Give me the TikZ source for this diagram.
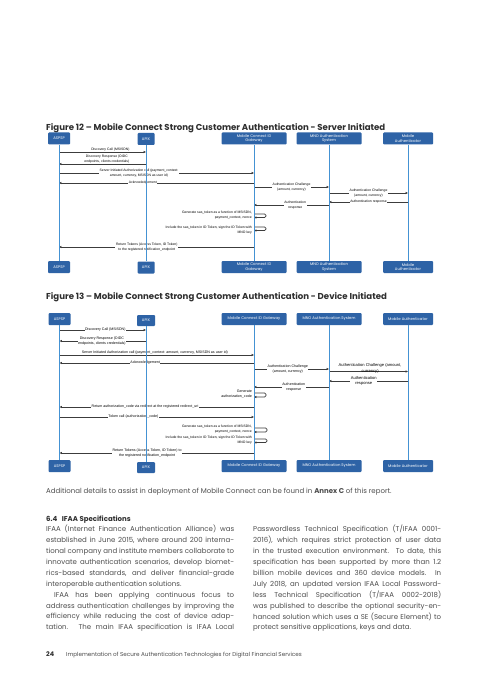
\documentclass[tikz,border=0pt]{standalone}
\usepackage{fontspec}
\setmainfont{Poppins}
\newfontfamily\diagfont{Liberation Sans}
\usetikzlibrary{arrows.meta}

\definecolor{boxblue}{HTML}{2E63A6}
\definecolor{lifeblue}{HTML}{4492D3}
\definecolor{msggray}{HTML}{3C3C3C}
\definecolor{textgray}{HTML}{4D4D4D}
\definecolor{titlegray}{HTML}{2F2F2F}

\newcommand\jl[1]{\makebox[188pt][s]{#1}}

\tikzset{
  actor/.style={fill=boxblue, rounded corners=1pt, text=white, inner sep=0pt,
    font=\fontsize{3.8}{4.8}\selectfont, align=center, minimum height=12pt},
  life/.style={draw=lifeblue, line width=0.9pt},
  msg/.style={draw=msggray, line width=0.7pt, -{Latex[length=2.4pt,width=2.4pt]}},
  lbl/.style={fill=white, inner sep=0.6pt, align=center,
    font=\diagfont\fontsize{3.4}{5}\selectfont},
  lblm/.style={lbl, font=\diagfont\fontsize{3.6}{5.2}\selectfont},
  lblbig/.style={lbl, font=\diagfont\fontsize{4.1}{5.8}\selectfont},
  note/.style={inner sep=0.5pt, align=right, font=\diagfont\fontsize{3.4}{5}\selectfont},
  loop/.style={msg, rounded corners=1.3pt},
  body/.style={anchor=north west, inner sep=0pt, align=left, text=textgray,
    font=\fontsize{7}{10.9}\selectfont},
  figtitle/.style={anchor=base west, inner sep=0pt, text=titlegray,
    font=\bfseries\fontsize{8.6}{10}\selectfont},
}

\begin{document}
\begin{tikzpicture}[x=1pt, y=-1pt]
\fill[white] (0,0) rectangle (480,679);
\useasboundingbox (0,0) rectangle (480,679);

% Figure 12
\node[figtitle] (title12) at (46,131) {Figure 12 – Mobile Connect Strong Customer Authentication - Server Initiated};

\node[actor, minimum width=22pt] (aspspT) at (59,138.5) {ASPSP};
\node[actor, minimum width=17pt] (apixT) at (146,139) {APIX};
\node[actor, minimum width=65pt] (mcT) at (254,138.5) {Mobile Connect ID\\Gateway};
\node[actor, minimum width=65pt] (mnoT) at (329,138.5) {MNO Authentication\\System};
\node[actor, minimum width=50pt] (maT) at (408,138.5) {Mobile\\Authenticator};

\node[actor, minimum width=22pt] (aspspB) at (59,267) {ASPSP};
\node[actor, minimum width=17pt] (apixB) at (146,267.5) {APIX};
\node[actor, minimum width=65pt] (mcB) at (254,267) {Mobile Connect ID\\Gateway};
\node[actor, minimum width=65pt] (mnoB) at (329,267) {MNO Authentication\\System};
\node[actor, minimum width=50pt] (maB) at (408,267) {Mobile\\Authenticator};

% messages
\draw[msg] (aspspT |- 0,152) -- node[lbl, above, pos=0.59] {Discovery Call (MSISDN)} (apixT |- 0,152);
\draw[msg] (apixT |- 0,164) -- node[lbl, above, pos=0.45] {Discovery Response (OIDC\\endpoints, clients credentials)} (aspspT |- 0,164);
\draw[msg] (aspspT |- 0,173) -- node[lbl, pos=0.41] {Server Initiated Authorization call (payment\_context:\\amount, currency, MSISDN as user id)} (mcT |- 0,173);
\draw[msg] (mcT |- 0,183) -- node[lbl, pos=0.57] {Acknowledgement} (aspspT |- 0,183);
\draw[msg] (mcT |- 0,187) -- node[lbl] {Authentication Challenge\\(amount, currency)} (mnoT |- 0,187);
\draw[msg] (mnoT |- 0,193) -- node[lbl] {Authentication Challenge\\(amount, currency)} (maT |- 0,193);
\draw[msg] (maT |- 0,202) -- node[lbl] {Authentication response} (mnoT |- 0,202);
\draw[msg] (mnoT |- 0,205) -- node[lbl, pos=0.45] {Authentication\\response} (mcT |- 0,205);
\draw[loop] (mcT |- 0,214) -- ++(12,0) -- ++(0,3.5) -- ++(-12,0);
\node[note, left=1.5pt] (gen12) at (mcT |- 0,215.5) {Generate sas\_token as a function of MSISDN,\\payment\_context, nonce};
\draw[loop] (mcT |- 0,227) -- ++(12,0) -- ++(0,3.5) -- ++(-12,0);
\node[note, left=1.5pt] (inc12) at (mcT |- 0,230.5) {Include the sas\_token in ID Token, sign the ID Token with\\MNO key};
\draw[msg] (mcT |- 0,247) -- node[lbl, pos=0.55] {Return Tokens (Access Token, ID Token)\\to the registered notification\_endpoint} (aspspT |- 0,247);

% lifelines
\foreach \who in {aspsp, apix, mc, mno, ma}
  \draw[life] (\who T) -- (\who B);

% Figure 13
\node[figtitle] (title13) at (46,299) {Figure 13 – Mobile Connect Strong Customer Authentication - Device Initiated};

\node[actor, minimum width=22pt] (aspspU) at (59.5,319) {ASPSP};
\node[actor, minimum width=18pt, minimum height=11pt] (apixU) at (146,320.5) {APIX};
\node[actor, minimum width=65pt] (mcU) at (254,319) {Mobile Connect ID Gateway};
\node[actor, minimum width=65pt] (mnoU) at (329,319) {MNO Authentication System};
\node[actor, minimum width=50pt] (maU) at (408,319) {Mobile Authenticator};

\node[actor, minimum width=22pt] (aspspD) at (59.5,466) {ASPSP};
\node[actor, minimum width=18pt, minimum height=11pt] (apixD) at (146,467.5) {APIX};
\node[actor, minimum width=65pt] (mcD) at (254,466) {Mobile Connect ID Gateway};
\node[actor, minimum width=65pt] (mnoD) at (329,466) {MNO Authentication System};
\node[actor, minimum width=50pt] (maD) at (408,466) {Mobile Authenticator};

% messages
\draw[msg] (aspspU |- 0,330) -- node[lblm, pos=0.53] {Discovery Call (MSISDN)} (apixU |- 0,330);
\draw[msg] (apixU |- 0,341) -- node[lblm, pos=0.51] {Discovery Response (OIDC\\endpoints, clients credentials)} (aspspU |- 0,341);
\draw[msg] (aspspU |- 0,355) -- node[lblm, above, pos=0.49] {Server Initiated Authorization call (payment\_context: amount, currency, MSISDN as user id)} (mcU |- 0,355);
\draw[msg] (mcU |- 0,363) -- node[lblm, pos=0.56] {Acknowledgement} (aspspU |- 0,363);
\draw[msg] (mcU |- 0,369) -- node[lblm, pos=0.45] {Authentication Challenge\\(amount, currency)} (mnoU |- 0,369);
\draw[msg] (mnoU |- 0,371.5) -- node[lblbig, above, yshift=-2.4pt, fill=none, pos=0.52] {Authentication Challenge (amount,\\currency)} (maU |- 0,371.5);
\draw[msg] (maU |- 0,381) -- node[lblbig, pos=0.56] {Authentication\\response} (mnoU |- 0,381);
\draw[msg] (mnoU |- 0,387) -- node[lblm, pos=0.47] {Authentication\\response} (mcU |- 0,387);
\draw[loop] (mcU |- 0,393) -- ++(12,0) -- ++(0,4) -- ++(-12,0);
\node[note, left=1.5pt, font=\diagfont\fontsize{3.6}{5.6}\selectfont] (gen13a) at (mcU |- 0,394) {Generate\\authorization\_code};
\draw[msg] (mcU |- 0,407) -- node[lblm, pos=0.56] {Return authorization\_code via redirect at the registered redirect\_uri} (aspspU |- 0,407);
\draw[msg] (aspspU |- 0,417) -- node[lblm, pos=0.38] {Token call (authorization\_code)} (mcU |- 0,417);
\draw[loop] (mcU |- 0,428) -- ++(13,0) -- ++(0,4) -- ++(-13,0);
\node[note, left=1.5pt] (gen13b) at (mcU |- 0,429.5) {Generate sas\_token as a function of MSISDN,\\payment\_context, nonce};
\draw[loop] (mcU |- 0,439) -- ++(13,0) -- ++(0,3.5) -- ++(-13,0);
\node[note, left=1.5pt] (inc13) at (mcU |- 0,440.5) {Include the sas\_token in ID Token, sign the ID Token with\\MNO key};
\draw[msg] (mcU |- 0,453) -- node[lblm, pos=0.55] {Return Tokens (Access Token, ID Token) to\\the registered notification\_endpoint} (aspspU |- 0,453);

% lifelines
\foreach \who in {aspsp, apix, mc, mno, ma}
  \draw[life] (\who U) -- (\who D);

% text below
\node[anchor=base west, inner sep=0pt, text=textgray, font=\fontsize{7}{10.9}\selectfont]
  (annex) at (46,493.5) {Additional details to assist in deployment of Mobile Connect can be found in \textbf{Annex C} of this report.};
\node[anchor=base west, inner sep=0pt, text=titlegray, font=\bfseries\fontsize{7}{10}\selectfont]
  (sec64) at (46,521.5) {6.4\hspace{3pt} IFAA Specifications};

\node[body] (colL) at (46,525) {%
\jl{IFAA (Internet Finance Authentication Alliance) was}\\
\jl{established in June 2015, where around 200 interna-}\\
\jl{tional company and institute members collaborate to}\\
\jl{innovate authentication scenarios, develop biomet-}\\
\jl{rics-based standards, and deliver financial-grade}\\
interoperable authentication solutions.\\
\jl{\hspace*{8pt}IFAA has been applying continuous focus to}\\
\jl{address authentication challenges by improving the}\\
\jl{efficiency while reducing the cost of device adap-}\\
\jl{tation. The main IFAA specification is IFAA Local}};

\node[body] (colR) at (253,525) {%
\jl{Passwordless Technical Specification (T/IFAA 0001-}\\
\jl{2016), which requires strict protection of user data}\\
\jl{in the trusted execution environment. To date, this}\\
\jl{specification has been supported by more than 1.2}\\
\jl{billion mobile devices and 360 device models. In}\\
\jl{July 2018, an updated version IFAA Local Password-}\\
\jl{less Technical Specification (T/IFAA 0002-2018)}\\
\jl{was published to describe the optional security-en-}\\
\jl{hanced solution which uses a SE (Secure Element) to}\\
protect sensitive applications, keys and data.};

% footer
\node[anchor=base west, inner sep=0pt, text=titlegray, font=\bfseries\fontsize{6.4}{8}\selectfont]
  (pageno) at (46,656.5) {24};
\node[anchor=base west, inner sep=0pt, text=textgray, font=\fontsize{5.65}{7}\selectfont]
  (running) at (66,656.5) {Implementation of Secure Authentication Technologies for Digital Financial Services};
\end{tikzpicture}
\end{document}
